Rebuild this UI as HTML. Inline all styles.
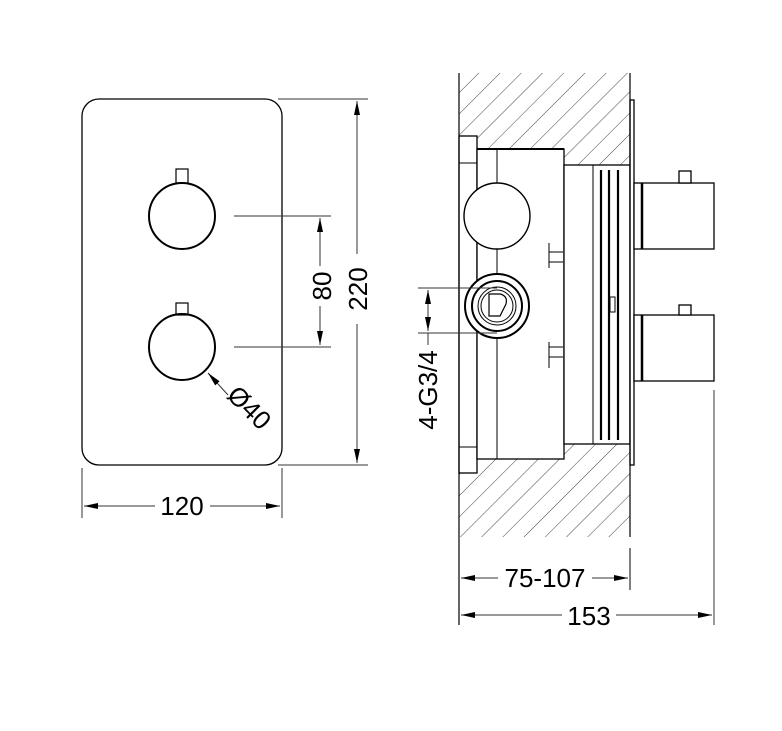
<!DOCTYPE html>
<html><head><meta charset="utf-8"><style>html,body{margin:0;padding:0;background:#fff}svg{display:block}</style></head><body>
<svg width="782" height="731" viewBox="0 0 782 731" xmlns="http://www.w3.org/2000/svg" font-family="Liberation Sans, sans-serif">
<defs>
<pattern id="h" width="15" height="15" patternUnits="userSpaceOnUse" patternTransform="rotate(45)">
<line x1="0" y1="0" x2="0" y2="15" stroke="#444" stroke-width="1"/>
</pattern>
<marker id="a" markerWidth="14" markerHeight="6" refX="14" refY="3" orient="auto" markerUnits="userSpaceOnUse"><path d="M0,0 L14,3 L0,6 Z" fill="#000"/></marker>
<marker id="b" markerWidth="14" markerHeight="6" refX="0" refY="3" orient="auto" markerUnits="userSpaceOnUse"><path d="M14,0 L0,3 L14,6 Z" fill="#000"/></marker>
</defs>
<g fill="none" stroke="#000" stroke-width="1.3">
<rect x="82" y="99" width="200" height="366" rx="17"/>
<circle cx="182" cy="216" r="33" stroke-width="2"/>
<rect x="176" y="169" width="12" height="14" stroke-width="1.2"/>
<circle cx="182" cy="347" r="33" stroke-width="2"/>
<rect x="176" y="303" width="12" height="12" stroke-width="1.2"/>
</g>
<g stroke="#333" stroke-width="1" fill="none">
<line x1="234" y1="216" x2="331" y2="216"/>
<line x1="234" y1="347" x2="331" y2="347"/>
<line x1="320" y1="218" x2="320" y2="266" marker-start="url(#b)"/>
<line x1="320" y1="306" x2="320" y2="345" marker-end="url(#a)"/>
<line x1="278" y1="99" x2="368" y2="99"/>
<line x1="278" y1="465" x2="368" y2="465"/>
<line x1="357" y1="101" x2="357" y2="254" marker-start="url(#b)"/>
<line x1="357" y1="324" x2="357" y2="463" marker-end="url(#a)"/>
<line x1="82" y1="468" x2="82" y2="518"/>
<line x1="282" y1="468" x2="282" y2="518"/>
<line x1="84" y1="506" x2="155" y2="506" marker-start="url(#b)"/>
<line x1="210" y1="506" x2="280" y2="506" marker-end="url(#a)"/>
<line x1="228" y1="395" x2="208" y2="373" marker-end="url(#a)"/>
</g>
<g font-size="26" fill="#000">
<text x="182" y="515" text-anchor="middle">120</text>
<text transform="translate(331,286) rotate(-90)" text-anchor="middle">80</text>
<text transform="translate(367,289) rotate(-90)" text-anchor="middle">220</text>
<text transform="translate(243,414) rotate(45)" text-anchor="middle">Ø40</text>
<text transform="translate(437,390) rotate(-90)" text-anchor="middle">4-G3/4</text>
<text x="545" y="587" text-anchor="middle">75-107</text>
<text x="589" y="625" text-anchor="middle">153</text>
</g>
<rect x="459" y="73" width="171" height="464" fill="url(#h)"/>
<g fill="#fff" stroke="#000" stroke-width="1.3">
<rect x="459" y="136" width="18" height="337"/>
<rect x="477" y="149" width="87" height="310"/>
<rect x="564" y="165" width="66" height="279"/>
<rect x="630" y="100" width="4" height="365"/>
<rect x="634" y="183" width="80" height="66"/>
<rect x="634" y="315" width="80" height="66"/>
<rect x="679" y="171" width="12" height="12"/>
<rect x="679" y="305" width="12" height="10"/>
</g>
<g stroke="#000" fill="none">
<line x1="459" y1="73" x2="459" y2="625" stroke-width="1.2"/>
<line x1="630" y1="73" x2="630" y2="537" stroke-width="1.2"/>
<line x1="630" y1="548" x2="630" y2="590" stroke-width="1"/>
<line x1="497" y1="149" x2="497" y2="459" stroke-width="1"/>
<line x1="593" y1="165" x2="593" y2="444" stroke-width="1"/>
<line x1="601" y1="170" x2="601" y2="440" stroke-width="2.2"/>
<line x1="609" y1="170" x2="609" y2="440" stroke-width="2.2"/>
<line x1="618" y1="170" x2="618" y2="440" stroke-width="2.2"/>
<rect x="610" y="297" width="5" height="15" fill="#fff" stroke-width="1"/>
<line x1="642" y1="183" x2="642" y2="249" stroke-width="2.5"/>
<line x1="642" y1="315" x2="642" y2="381" stroke-width="2.5"/>
<line x1="477" y1="149" x2="564" y2="149" stroke-width="2"/>
<circle cx="497" cy="216" r="33" fill="#fff" stroke-width="1.4"/>
<circle cx="497" cy="306" r="32" fill="#fff" stroke-width="2"/>
<circle cx="497" cy="306" r="25" stroke-width="2"/>
<circle cx="497" cy="306" r="19" stroke-width="1"/>
<circle cx="497" cy="306" r="16" stroke-width="1"/>
<path d="M489,294 L500,294 Q508,296 506,304 L500,316 L489,316 Z" stroke-width="1.2"/>
<path d="M549,243 L549,268 M549,252 L563,252 M549,262 L563,262" stroke-width="1"/>
<path d="M549,342 L549,368 M549,347 L563,347 M549,357 L563,357" stroke-width="1"/>
<path d="M459,163 L477,163 M459,447 L477,447" stroke-width="1"/>
</g>
<g stroke="#333" stroke-width="1" fill="none">
<line x1="418" y1="288" x2="497" y2="288"/>
<line x1="418" y1="333" x2="497" y2="333"/>
<line x1="428" y1="290" x2="428" y2="331" marker-start="url(#b)" marker-end="url(#a)"/>
<line x1="428" y1="333" x2="428" y2="345"/>
<line x1="714" y1="390" x2="714" y2="625"/>
<line x1="461" y1="578" x2="498" y2="578" marker-start="url(#b)"/>
<line x1="592" y1="578" x2="628" y2="578" marker-end="url(#a)"/>
<line x1="461" y1="615" x2="562" y2="615" marker-start="url(#b)"/>
<line x1="616" y1="615" x2="712" y2="615" marker-end="url(#a)"/>
</g>
</svg>
</body></html>
